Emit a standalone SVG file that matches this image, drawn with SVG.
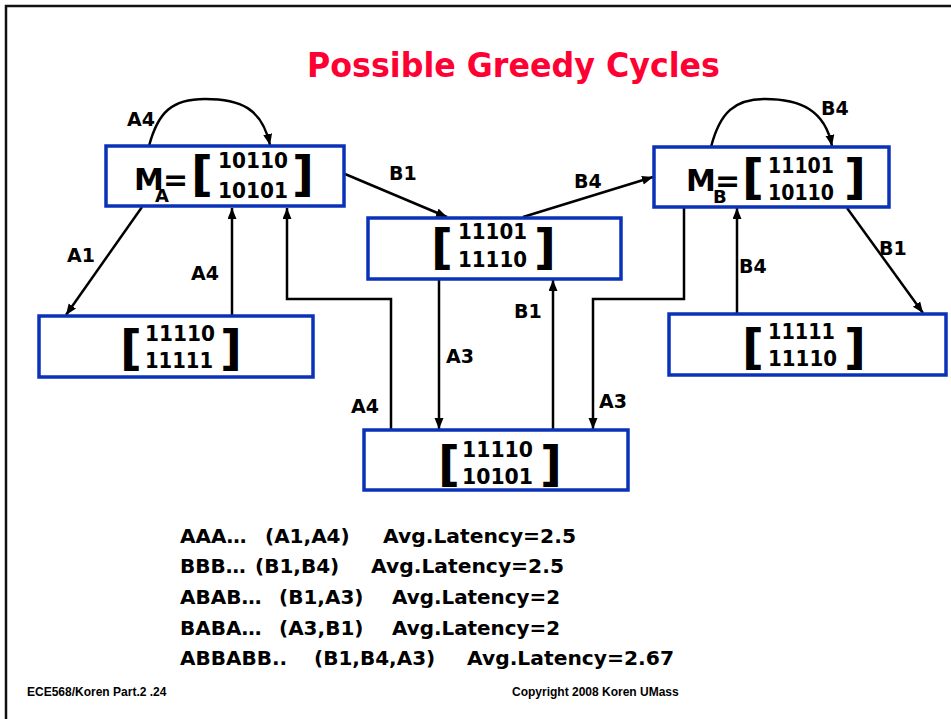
<svg xmlns="http://www.w3.org/2000/svg" width="951" height="719" viewBox="0 0 951 719">
<style>
.box{fill:#fff;stroke:#0a32b9;stroke-width:3.5}
.dig{font-family:"DejaVu Sans",sans-serif;font-weight:bold;font-size:22px;fill:#000}
.br{font-family:"DejaVu Sans",sans-serif;font-weight:bold;font-size:48px;fill:#000}
.m{font-family:"DejaVu Sans",sans-serif;font-weight:bold;font-size:30px;fill:#000}
.sub{font-size:18px}
.lbl{font-family:"DejaVu Sans",sans-serif;font-weight:bold;font-size:19px;fill:#000}
.txt{font-family:"DejaVu Sans",sans-serif;font-weight:bold;font-size:20px;fill:#000}
.foot{font-family:"Liberation Sans",Arial,sans-serif;font-weight:bold;font-size:12px;fill:#000}
.title{font-family:"DejaVu Sans",sans-serif;font-weight:bold;font-size:33px;fill:#ff0033}
.edge{fill:none;stroke:#000;stroke-width:2.5}
</style>
<defs>
<marker id="ah" markerUnits="userSpaceOnUse" markerWidth="12" markerHeight="10" refX="11" refY="4.5" orient="auto">
<path d="M0,0 L11,4.5 L0,9 z" fill="#000"/>
</marker>
</defs>
<rect x="0" y="0" width="951" height="719" fill="#fff"/>
<path d="M6,719 V6 H951" fill="none" stroke="#111" stroke-width="2.5"/>
<text class="title" x="307" y="77" textLength="413" lengthAdjust="spacingAndGlyphs">Possible Greedy Cycles</text>

<g id="connectors">
<path class="edge" marker-end="url(#ah)" d="M149,146 C158,112 172,99 205,99 C240,99 262,108 270,145"/>
<path class="edge" marker-end="url(#ah)" d="M711,147 C720,112 735,99 765,99 C800,99 825,110 832,146"/>
<path class="edge" marker-end="url(#ah)" d="M345,174 L447,217"/>
<path class="edge" marker-end="url(#ah)" d="M523,217 L653,177"/>
<path class="edge" marker-end="url(#ah)" d="M142,207 L66,315"/>
<path class="edge" marker-end="url(#ah)" d="M232,316 L232,208"/>
<path class="edge" marker-end="url(#ah)" d="M391,430 V299 H287 V208"/>
<path class="edge" marker-end="url(#ah)" d="M439,280 V429"/>
<path class="edge" marker-end="url(#ah)" d="M553,430 V280"/>
<path class="edge" marker-end="url(#ah)" d="M684,208 V299 H593 V429"/>
<path class="edge" marker-end="url(#ah)" d="M847,208 L923,313"/>
<path class="edge" marker-end="url(#ah)" d="M737,314 V208"/>
<text class="lbl" x="127" y="126">A4</text>
<text class="lbl" x="821" y="115">B4</text>
<text class="lbl" x="389" y="180">B1</text>
<text class="lbl" x="574" y="188">B4</text>
<text class="lbl" x="67" y="262">A1</text>
<text class="lbl" x="191" y="280">A4</text>
<text class="lbl" x="739" y="273">B4</text>
<text class="lbl" x="879" y="255">B1</text>
<text class="lbl" x="514" y="318">B1</text>
<text class="lbl" x="446" y="363">A3</text>
<text class="lbl" x="351" y="413">A4</text>
<text class="lbl" x="599" y="408">A3</text>
</g>

<g id="nodeMA">
<rect class="box" x="106" y="146" width="238" height="60"/>
<text class="m" x="134" y="190">M<tspan class="sub" x="155" y="202">A</tspan><tspan x="163" y="190">=</tspan></text>
<text class="br" x="191" y="191">[</text>
<text class="dig" x="218" y="168" textLength="70" lengthAdjust="spacingAndGlyphs">10110</text>
<text class="dig" x="218" y="198" textLength="70" lengthAdjust="spacingAndGlyphs">10101</text>
<text class="br" x="292" y="191">]</text>
</g>

<g id="nodeMB">
<rect class="box" x="654" y="147" width="235" height="60"/>
<text class="m" x="686" y="191">M<tspan class="sub" x="713" y="203">B</tspan><tspan x="715" y="191">=</tspan></text>
<text class="br" x="742" y="194">[</text>
<text class="dig" x="768" y="173" textLength="66" lengthAdjust="spacingAndGlyphs">11101</text>
<text class="dig" x="768" y="200" textLength="66" lengthAdjust="spacingAndGlyphs">10110</text>
<text class="br" x="844" y="194">]</text>
</g>

<g id="nodeMid">
<rect class="box" x="368" y="218" width="253" height="61"/>
<text class="br" x="431" y="264">[</text>
<text class="dig" x="458" y="239" textLength="69" lengthAdjust="spacingAndGlyphs">11101</text>
<text class="dig" x="458" y="267" textLength="69" lengthAdjust="spacingAndGlyphs">11110</text>
<text class="br" x="534" y="264">]</text>
</g>

<g id="nodeLeft">
<rect class="box" x="39" y="316" width="274" height="61"/>
<text class="br" x="120" y="365">[</text>
<text class="dig" x="145" y="341" textLength="70" lengthAdjust="spacingAndGlyphs">11110</text>
<text class="dig" x="145" y="368" textLength="68" lengthAdjust="spacingAndGlyphs">11111</text>
<text class="br" x="220" y="365">]</text>
</g>

<g id="nodeRight">
<rect class="box" x="669" y="314" width="277" height="61"/>
<text class="br" x="742" y="364">[</text>
<text class="dig" x="768" y="339" textLength="67" lengthAdjust="spacingAndGlyphs">11111</text>
<text class="dig" x="768" y="366" textLength="69" lengthAdjust="spacingAndGlyphs">11110</text>
<text class="br" x="844" y="364">]</text>
</g>

<g id="nodeBottom">
<rect class="box" x="364" y="430" width="264" height="60"/>
<text class="br" x="438" y="481">[</text>
<text class="dig" x="462" y="457" textLength="71" lengthAdjust="spacingAndGlyphs">11110</text>
<text class="dig" x="462" y="484" textLength="71" lengthAdjust="spacingAndGlyphs">10101</text>
<text class="br" x="540" y="481">]</text>
</g>

<g id="summary">
<text class="txt" x="180" y="543">AAA…</text>
<text class="txt" x="265" y="543">(A1,A4)</text>
<text class="txt" x="383" y="543" textLength="193" lengthAdjust="spacingAndGlyphs">Avg.Latency=2.5</text>
<text class="txt" x="180" y="573">BBB…</text>
<text class="txt" x="255" y="573">(B1,B4)</text>
<text class="txt" x="371" y="573" textLength="193" lengthAdjust="spacingAndGlyphs">Avg.Latency=2.5</text>
<text class="txt" x="180" y="604">ABAB…</text>
<text class="txt" x="279" y="604">(B1,A3)</text>
<text class="txt" x="392" y="604" textLength="168" lengthAdjust="spacingAndGlyphs">Avg.Latency=2</text>
<text class="txt" x="180" y="635">BABA…</text>
<text class="txt" x="279" y="635">(A3,B1)</text>
<text class="txt" x="392" y="635" textLength="168" lengthAdjust="spacingAndGlyphs">Avg.Latency=2</text>
<text class="txt" x="180" y="665">ABBABB..</text>
<text class="txt" x="314" y="665">(B1,B4,A3)</text>
<text class="txt" x="467" y="665" textLength="207" lengthAdjust="spacingAndGlyphs">Avg.Latency=2.67</text>
</g>

<text class="foot" x="27" y="696">ECE568/Koren Part.2 .24</text>
<text class="foot" x="512" y="696">Copyright 2008 Koren UMass</text>
</svg>
